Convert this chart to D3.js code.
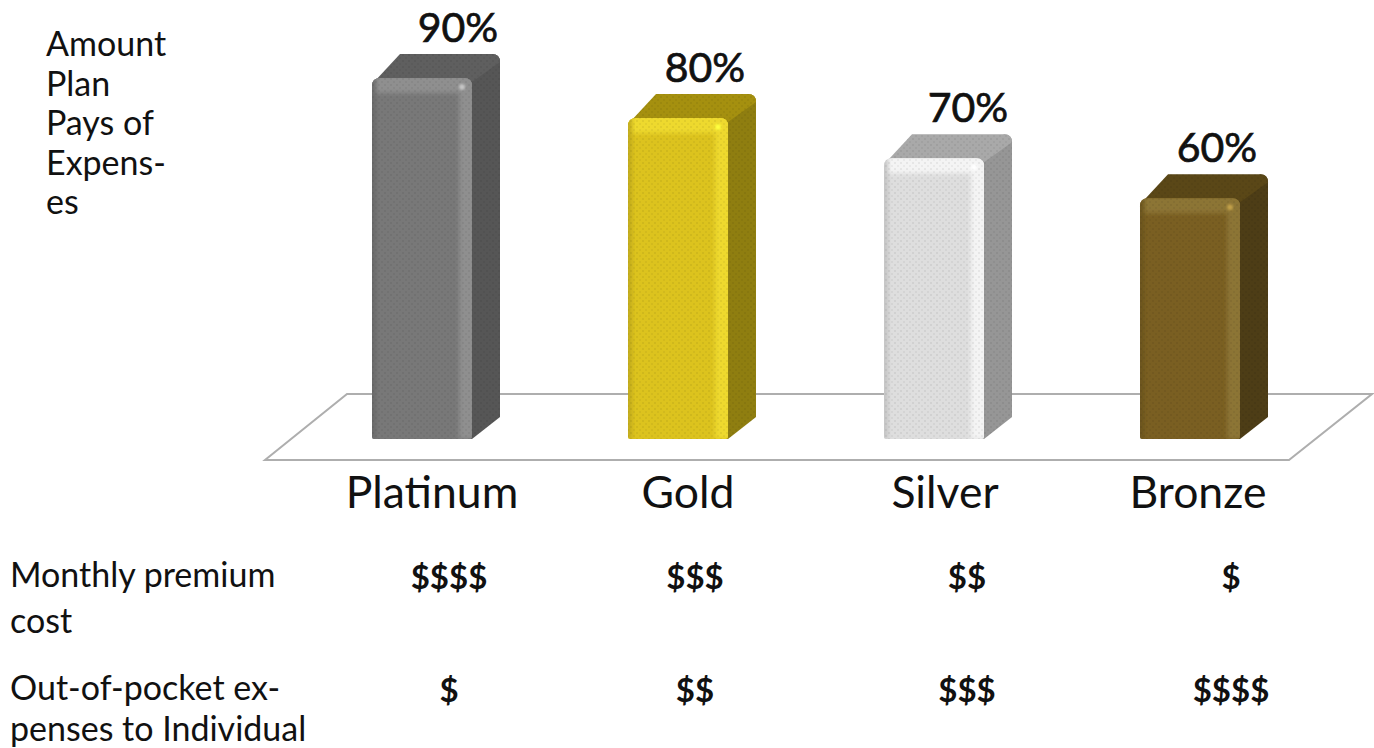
<!DOCTYPE html>
<html>
<head>
<meta charset="utf-8">
<script src="https://cdn.jsdelivr.net/npm/d3@7"></script>
<style>
    html, body { margin: 0; padding: 0; background: #fff; }
    svg { display: block; }
    text { font-family: Lato, "Noto Sans", sans-serif; fill: #111; }
    .side-label { font-size: 34px; }
    .cat-label { font-size: 44.5px; }
    .val-label { font-size: 41px; stroke: #111; stroke-width: 0.7px; }
    .cost-label { font-size: 33px; font-weight: 700; }
</style>
</head>
<body>
<div id="chart"></div>
<script>
// Data
const plans = ["Platinum", "Gold", "Silver", "Bronze"];
const paysPercent = [90, 80, 70, 60];
const premiumCost = ["$$$$", "$$$", "$$", "$"];
const outOfPocket = ["$", "$$", "$$$", "$$$$"];
const axisTitleLines = ["Amount", "Plan", "Pays of", "Expens-", "es"];
const premiumLines = ["Monthly premium", "cost"];
const pocketLines = ["Out-of-pocket ex-", "penses to Individual"];

const frontColors = ["#787878", "#dcc31e", "#dedede", "#7a5f22"];
const edgeColors = ["#8f8f8f", "#eed92e", "#f4f4f4", "#8c7434"];
const topColors = ["#5f5f5f", "#a5900f", "#a9a9a9", "#5a4717"];
const sideColors = ["#565656", "#8f7e10", "#969696", "#4d3d16"];

const width = 1374, height = 748;
const depthX = 28, depthY = 24, corner = 8;

const svg = d3.select("#chart").append("svg")
    .attr("width", width)
    .attr("height", height);

// Scales
const x = d3.scaleBand().domain(plans).range([372, 1240]).paddingInner(0.609375).paddingOuter(0);
const y = d3.scaleLinear().domain([0, 90]).range([439, 78]);

const defs = svg.append("defs");

// speckled print texture on the bars
const speckle = defs.append("pattern")
    .attr("id", "speckle")
    .attr("width", 6).attr("height", 6)
    .attr("patternUnits", "userSpaceOnUse");
speckle.append("circle").attr("cx", 1).attr("cy", 1).attr("r", 0.7).attr("fill", "#000").attr("opacity", 0.16);
speckle.append("circle").attr("cx", 4).attr("cy", 4).attr("r", 0.7).attr("fill", "#000").attr("opacity", 0.12);

defs.append("filter").attr("id", "soft")
    .attr("x", "-30%").attr("y", "-30%").attr("width", "160%").attr("height", "160%")
    .append("feGaussianBlur").attr("stdDeviation", 2.2);

defs.append("filter").attr("id", "softer")
    .attr("x", "-100%").attr("y", "-100%").attr("width", "300%").attr("height", "300%")
    .append("feGaussianBlur").attr("stdDeviation", 1.2);

// Floor
const floorFront = y(0) + 21, floorBack = y(0) - 45;
svg.append("path")
    .attr("d", `M265,${floorFront}L1289,${floorFront}L1372,${floorBack}L347,${floorBack}Z`)
    .attr("fill", "#fff")
    .attr("stroke", "#aeaeae")
    .attr("stroke-width", 2);

// Bars
const bars = svg.selectAll(".bar")
    .data(plans.map((p, i) => ({ plan: p, value: paysPercent[i], i })))
    .enter().append("g")
    .attr("class", "bar");

function frontPath(d) {
    const x0 = x(d.plan), x1 = x0 + x.bandwidth(), top = y(d.value), base = y(0);
    return `M${x0},${top + corner}Q${x0},${top} ${x0 + corner},${top}L${x1 - corner},${top}Q${x1},${top} ${x1},${top + corner}` +
        `L${x1},${base - 2}Q${x1},${base} ${x1 - 2},${base}L${x0 + 2},${base}Q${x0},${base} ${x0},${base - 2}Z`;
}

function sidePath(d) {
    const x1 = x(d.plan) + x.bandwidth(), top = y(d.value), base = y(0);
    return `M${x1 - corner},${top}L${x1 + depthX - corner},${top - depthY}Q${x1 + depthX},${top - depthY} ${x1 + depthX},${top - depthY + corner}` +
        `L${x1 + depthX},${base - depthY + 2}L${x1},${base}L${x1 - corner},${base}Z`;
}

function topPath(d) {
    const x0 = x(d.plan), x1 = x0 + x.bandwidth(), top = y(d.value);
    return `M${x0 + 2},${top + 4}L${x0 + depthX},${top - depthY}L${x1 + depthX - corner},${top - depthY}` +
        `Q${x1 + depthX},${top - depthY} ${x1 + depthX},${top - depthY + corner}L${x1},${top + 4}Z`;
}

bars.each(function (d) {
    defs.append("clipPath").attr("id", `clip${d.i}`)
        .append("path").attr("d", frontPath(d));
});

bars.append("path")
    .attr("d", sidePath)
    .attr("fill", d => sideColors[d.i]);

bars.append("path")
    .attr("d", topPath)
    .attr("fill", d => topColors[d.i]);

bars.append("path")
    .attr("d", d => sidePath(d) + topPath(d))
    .attr("fill", "url(#speckle)");

bars.append("path")
    .attr("d", frontPath)
    .attr("fill", d => frontColors[d.i]);

// Soft bevels on the front face, clipped to it
const bevels = bars.append("g")
    .attr("clip-path", d => `url(#clip${d.i})`);

bevels.append("rect")
    .attr("x", d => x(d.plan) - 3)
    .attr("y", d => y(d.value) - 3)
    .attr("width", x.bandwidth() + 6)
    .attr("height", 18)
    .attr("fill", d => edgeColors[d.i])
    .attr("filter", "url(#soft)");

bevels.append("rect")
    .attr("x", d => x(d.plan) + x.bandwidth() - 13)
    .attr("y", d => y(d.value))
    .attr("width", 16)
    .attr("height", d => y(0) - y(d.value))
    .attr("fill", d => edgeColors[d.i])
    .attr("filter", "url(#soft)");

bevels.append("rect")
    .attr("x", d => x(d.plan) - 3)
    .attr("y", d => y(d.value))
    .attr("width", 7)
    .attr("height", d => y(0) - y(d.value))
    .attr("fill", d => d3.color(frontColors[d.i]).darker(0.35))
    .attr("filter", "url(#soft)");

bars.append("path")
    .attr("d", frontPath)
    .attr("fill", "url(#speckle)");

// little glint where the bevels meet
bars.append("circle")
    .attr("cx", d => x(d.plan) + x.bandwidth() - 10)
    .attr("cy", d => y(d.value) + 9)
    .attr("r", 3)
    .attr("fill", d => d3.color(edgeColors[d.i]).brighter(0.9))
    .attr("filter", "url(#softer)");

// Value labels
const valueShift = [36, 27, 34, 27];
svg.selectAll(".val-label")
    .data(plans)
    .enter().append("text")
    .attr("class", "val-label")
    .attr("x", (d, i) => x(d) + x.bandwidth() / 2 + valueShift[i])
    .attr("y", (d, i) => y(paysPercent[i]) - 36)
    .attr("text-anchor", "middle")
    .text((d, i) => paysPercent[i] + "%");

// Category labels
const labelShift = [10, 10, 11, 8];
svg.selectAll(".cat-label")
    .data(plans)
    .enter().append("text")
    .attr("class", "cat-label")
    .attr("x", (d, i) => x(d) + x.bandwidth() / 2 + labelShift[i])
    .attr("y", 508)
    .attr("text-anchor", "middle")
    .text(d => d);

// Cost rows under the chart
const costCenters = [449, 695, 967, 1231];

svg.selectAll(".premium")
    .data(premiumCost)
    .enter().append("text")
    .attr("class", "cost-label premium")
    .attr("x", (d, i) => costCenters[i])
    .attr("y", 589)
    .attr("text-anchor", "middle")
    .text(d => d);

svg.selectAll(".pocket")
    .data(outOfPocket)
    .enter().append("text")
    .attr("class", "cost-label pocket")
    .attr("x", (d, i) => costCenters[i])
    .attr("y", 702)
    .attr("text-anchor", "middle")
    .text(d => d);

// Left side labels
function sideLabel(lines, left, first, step) {
    svg.selectAll(null)
        .data(lines)
        .enter().append("text")
        .attr("class", "side-label")
        .attr("x", left)
        .attr("y", (d, i) => first + i * step)
        .text(d => d);
}

sideLabel(axisTitleLines, 46, 56, 39.5);
sideLabel(premiumLines, 10, 587, 46);
sideLabel(pocketLines, 10, 700, 41);
</script>
</body>
</html>
